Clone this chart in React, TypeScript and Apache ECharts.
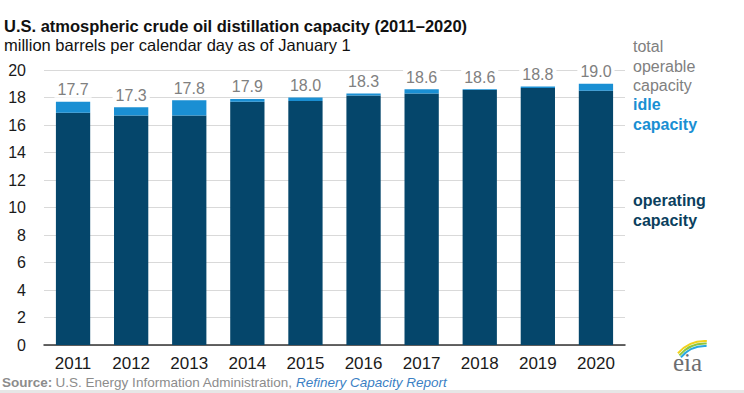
import React, { useEffect, useRef } from "react";
import * as echarts from "echarts";

const years = ["2011", "2012", "2013", "2014", "2015", "2016", "2017", "2018", "2019", "2020"];
const operating = [16.9, 16.7, 16.7, 17.7, 17.75, 18.15, 18.3, 18.55, 18.7, 18.5];
const idle = [0.8, 0.6, 1.1, 0.2, 0.25, 0.15, 0.3, 0.05, 0.1, 0.5];
const totals = ["17.7", "17.3", "17.8", "17.9", "18.0", "18.3", "18.6", "18.6", "18.8", "19.0"];

const FONT_W = "'Liberation Sans', Arial, sans-serif";

export default function App() {
  const ref = useRef<HTMLDivElement>(null);
  useEffect(() => {
    if (!ref.current) return;
    const chart = echarts.init(ref.current, null, { renderer: "svg" });
    chart.setOption({
      animation: false,
      backgroundColor: "#ffffff",
      grid: { left: 44, right: 119, top: 70, bottom: 48 },
      xAxis: {
        type: "category",
        data: years,
        axisLine: { show: true, lineStyle: { color: "#333333", width: 1.5 } },
        axisTick: { show: false },
        axisLabel: { color: "#1a1a1a", fontSize: 17, fontFamily: FONT_W, margin: 10 },
      },
      yAxis: {
        type: "value",
        min: 0,
        max: 20,
        interval: 2,
        axisLine: { show: false },
        axisTick: { show: false },
        splitLine: { lineStyle: { color: "#d9d9d9", width: 1 } },
        axisLabel: { color: "#1a1a1a", fontSize: 16, fontFamily: FONT_W, margin: 18 },
      },
      series: [
        {
          name: "operating capacity",
          type: "bar",
          stack: "cap",
          data: operating,
          barWidth: "59%",
          itemStyle: { color: "#05466b" },
        },
        {
          name: "idle capacity",
          type: "bar",
          stack: "cap",
          data: idle,
          itemStyle: { color: "#1a8fd3" },
          label: {
            show: true,
            position: "top",
            distance: 4,
            formatter: (p: any) => totals[p.dataIndex],
            color: "#808080",
            fontSize: 16,
            fontFamily: FONT_W,
            backgroundColor: "#ffffff",
            padding: [1, 3, 0, 3],
          },
        },
      ],
      graphic: [
        {
          type: "text",
          left: 4,
          top: 17,
          style: {
            text: "U.S. atmospheric crude oil distillation capacity (2011\u20132020)",
            fontSize: 16.5,
            fontWeight: "bold",
            fontFamily: FONT_W,
            fill: "#111111",
          },
        },
        {
          type: "text",
          left: 4,
          top: 36,
          style: {
            text: "million barrels per calendar day as of January 1",
            fontSize: 16.5,
            fontFamily: FONT_W,
            fill: "#111111",
          },
        },
        {
          type: "text",
          left: 633,
          top: 37,
          style: {
            text: "total\noperable\ncapacity",
            fontSize: 16,
            lineHeight: 19.5,
            fontFamily: FONT_W,
            fill: "#808080",
          },
        },
        {
          type: "text",
          left: 633,
          top: 95,
          style: {
            text: "idle\ncapacity",
            fontSize: 16,
            lineHeight: 19.5,
            fontWeight: "bold",
            fontFamily: FONT_W,
            fill: "#1a8fd3",
          },
        },
        {
          type: "text",
          left: 633,
          top: 191,
          style: {
            text: "operating\ncapacity",
            fontSize: 16,
            lineHeight: 19.5,
            fontWeight: "bold",
            fontFamily: FONT_W,
            fill: "#0b3f5e",
          },
        },
        {
          type: "text",
          left: 2,
          top: 375,
          style: {
            text: "{b|Source:} {n|U.S. Energy Information Administration,} {i|Refinery Capacity Report}",
            rich: {
              b: { fontSize: 13.5, fontWeight: "bold", fill: "#8c8c8c", fontFamily: FONT_W },
              n: { fontSize: 13.5, fill: "#8c8c8c", fontFamily: FONT_W },
              i: { fontSize: 13.5, fontStyle: "italic", fill: "#3b7fc4", fontFamily: FONT_W },
            },
          },
        },
        {
          type: "rect",
          shape: { x: 0, y: 390, width: 744, height: 3 },
          style: { fill: "#e6e6e6" },
        },
        {
          type: "arc",
          shape: { cx: 705, cy: 377, r: 36, startAngle: -2.42, endAngle: -1.52 },
          style: { stroke: "#f2d21b", lineWidth: 2, fill: "none" },
        },
        {
          type: "arc",
          shape: { cx: 705, cy: 377, r: 33.5, startAngle: -2.44, endAngle: -1.52 },
          style: { stroke: "#8cc63f", lineWidth: 2, fill: "none" },
        },
        {
          type: "arc",
          shape: { cx: 705, cy: 377, r: 31, startAngle: -2.46, endAngle: -1.52 },
          style: { stroke: "#29a8e0", lineWidth: 2, fill: "none" },
        },
        {
          type: "text",
          left: 673,
          top: 350,
          style: {
            text: "eia",
            fontSize: 25,
            fontFamily: "'Liberation Serif', 'DejaVu Serif', serif",
            fill: "#6d6e71",
          },
        },
      ],
    });
    return () => chart.dispose();
  }, []);
  return <div ref={ref} style={{ width: 744, height: 393, position: "absolute", left: 0, top: 0 }} />;
}
